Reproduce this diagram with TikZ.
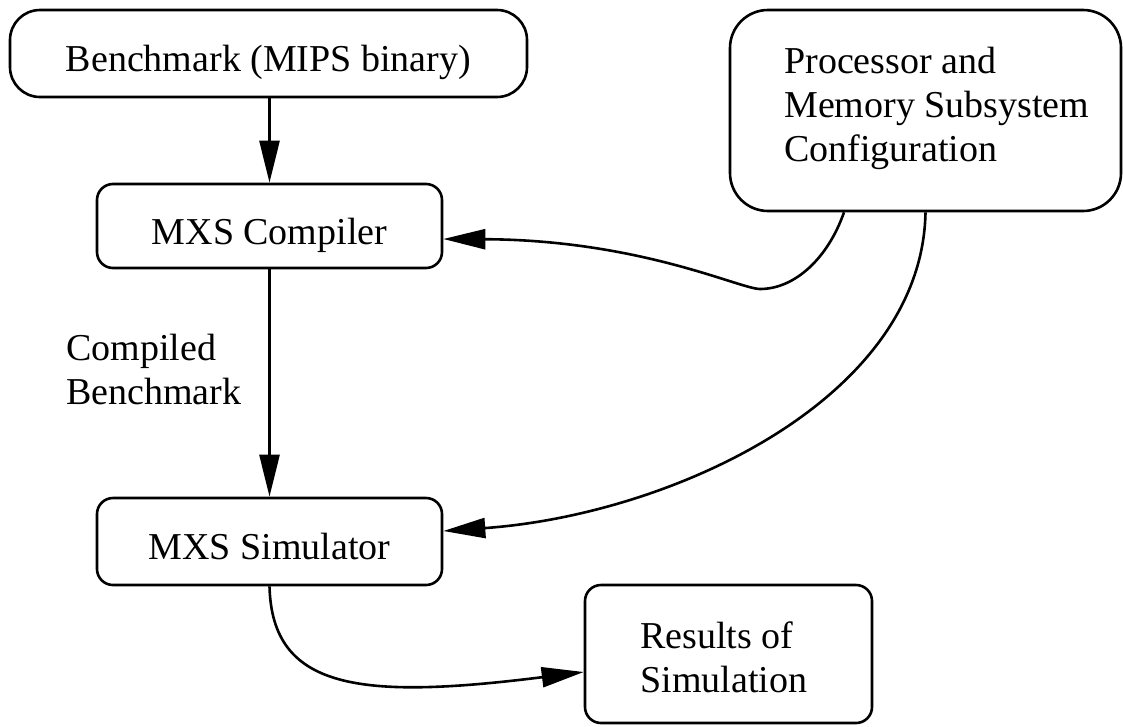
\documentclass[tikz,border=0pt]{standalone}
\usepackage{fontspec}
\setmainfont{Liberation Serif}
\usetikzlibrary{arrows.meta}
\begin{document}
\begin{tikzpicture}[x=1pt,y=-1pt,line width=2.6pt,
  every node/.style={font=\fontsize{38}{44}\selectfont},
  box/.style={draw,rounded corners=#1,inner sep=0pt,text height=36pt,text depth=0pt},
  txt/.style={anchor=north west,inner sep=0pt,align=left},
  arr/.style={-{Triangle[length=42pt,width=20pt]}}]
\useasboundingbox (0,0) rectangle (1123,726);
% boxes
\node[box=30pt,minimum width=517pt,minimum height=87pt] (b1) at (268.5,53.5) {Benchmark (MIPS binary)};
\node[box=16pt,minimum width=345pt,minimum height=84pt] (comp) at (269.5,226) {MXS Compiler};
\node[box=16pt,minimum width=345pt,minimum height=87pt] (sim) at (269.5,541.5) {MXS Simulator};
\node[box=38pt,minimum width=391pt,minimum height=201pt] (cfg) at (925.5,110.5) {};
\node[txt] (cfgtxt) at (783,46) {Processor and\\Memory Subsystem\\Configuration};
\node[box=16pt,minimum width=287pt,minimum height=138pt] (res) at (728.5,654) {};
\node[txt] (restxt) at (639,620) {Results of\\Simulation};
\node[txt] (lbl) at (65,333) {Compiled\\Benchmark};
% connectors
\draw[arr] (comp.north |- b1.south) -- (comp.north);
\draw[arr] (comp.south) -- (sim.north);
\draw[arr] ([xshift=-81.5pt]cfg.south) .. controls (828,258) and (795,289) .. (760,289)
  .. controls (740,289) and (640,240) .. ([yshift=-13pt]comp.east);
\draw[arr] (cfg.south) .. controls (922,400) and (670,515) .. ([yshift=10.5pt]sim.east);
\draw[arr] (sim.south) .. controls (272,690) and (360,700) .. ([yshift=-18pt]res.west);
\end{tikzpicture}
\end{document}
